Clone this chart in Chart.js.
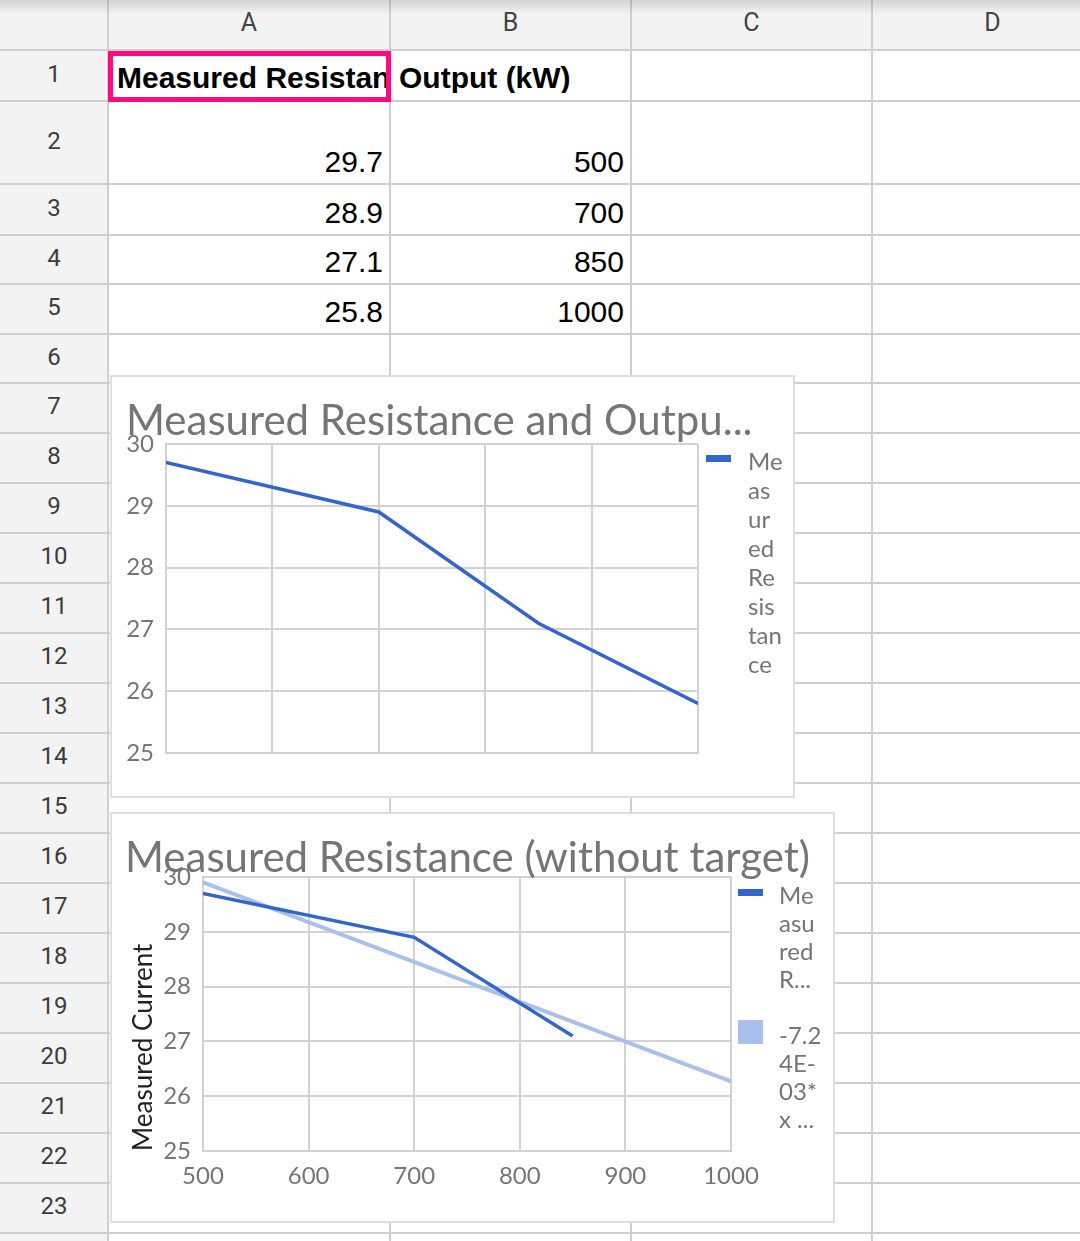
<!DOCTYPE html>
<html>
<head>
<meta charset="utf-8">
<title>Measured Resistance</title>
<script src="https://cdn.jsdelivr.net/npm/chart.js@4.4.1/dist/chart.umd.min.js"></script>
<style>
  html, body { margin: 0; padding: 0; background: #fff; }
  body { width: 1080px; height: 1241px; overflow: hidden; position: relative; }
  .band { position: absolute; background: #f3f3f3; }
  .hline { position: absolute; left: 0; width: 1080px; height: 2px; background: #cfcfcf; }
  .vline { position: absolute; top: 0; width: 2px; height: 1241px; background: #cfcfcf; }
  .head { position: absolute; display: flex; align-items: center; justify-content: center;
          font-family: Roboto, sans-serif; font-size: 24px; color: #3c3c3c; }
  .cell { position: absolute; height: 30px; line-height: 30px; font-family: 'Liberation Sans', Arial, sans-serif;
          font-size: 30px; color: #000; white-space: nowrap; overflow: hidden; box-sizing: border-box; }
  .num { text-align: right; padding-right: 7px; }
  .bold { font-weight: bold; padding-left: 9px; }
  #shadow { position: absolute; left: 0; top: 0; width: 1080px; height: 14px;
            background: linear-gradient(rgba(0,0,0,0.13), rgba(0,0,0,0)); }
  #selected { position: absolute; left: 108px; top: 51px; width: 283px; height: 51px;
              border: 5px solid #ff0a80; box-sizing: border-box; }
  .chartBox { position: absolute; background: #fff; border: 2px solid #dedede; box-sizing: border-box; }
  .chartBox canvas { position: absolute; left: -2px; top: -2px; }
</style>
</head>
<body>
<div id="sheet"></div>
<div class="chartBox" style="left:110px; top:375px; width:685px; height:423px;">
  <canvas id="chartTop" width="685" height="423"></canvas>
</div>
<div class="chartBox" style="left:110px; top:812px; width:725px; height:411px;">
  <canvas id="chartBottom" width="725" height="411"></canvas>
</div>
<script>
// sheet data
const outputKW = [500, 700, 850, 1000];
const resistance = [29.7, 28.9, 27.1, 25.8];
const headers = ['Measured Resistance', 'Output (kW)'];
const columnLetters = ['A', 'B', 'C', 'D'];

// second chart leaves out the last (target) row
const withoutTargetCount = 3;

// trendline as drawn in the second chart (end points)
const trendOutput = [500, 1000];
const trendResistance = [29.9, 26.27];

const seriesName = 'Measured Resistance';
const trendName = '-7.24E-03*x + 33.5';
const titleTop = 'Measured Resistance and Outpu...';
const titleBottom = 'Measured Resistance (without target)';
const yAxisTitle = 'Measured Current';

// legend text as it wraps in the narrow legend column
const legendLinesTop = [['Me', 'as', 'ur', 'ed', 'Re', 'sis', 'tan', 'ce']];
const legendLinesBottom = [['Me', 'asu', 'red', 'R...'], ['-7.2', '4E-', '03*', 'x ...']];

// ---- spreadsheet grid ----
const colEdges = [108, 390, 631, 872, 1113];
const rowEdges = [50, 101, 184, 235, 284, 334, 383, 433, 483, 533, 583, 633, 683, 733,
                  783, 833, 883, 933, 983, 1033, 1083, 1133, 1183, 1233, 1283];

const sheet = document.getElementById('sheet');
function add(cls, style, text) {
  const d = document.createElement('div');
  d.className = cls;
  Object.assign(d.style, style);
  if (text !== undefined) d.textContent = text;
  sheet.appendChild(d);
  return d;
}

add('band', { left: '0px', top: '0px', width: '1080px', height: '50px' });
add('band', { left: '0px', top: '0px', width: '108px', height: '1241px' });
rowEdges.forEach(y => add('hline', { top: (y - 1) + 'px' }));
colEdges.forEach(x => add('vline', { left: (x - 1) + 'px' }));
add('', { position: 'absolute' }).id = 'shadow';

columnLetters.forEach((c, i) => {
  add('head', { left: colEdges[i] + 'px', width: (colEdges[i + 1] - colEdges[i]) + 'px',
                top: '0px', height: '44px', fontSize: '25px', color: '#444' }, c);
});
for (let r = 0; r < rowEdges.length - 2; r++) {
  add('head', { left: '0px', width: '108px', top: (rowEdges[r] - 2) + 'px',
                height: (rowEdges[r + 1] - rowEdges[r]) + 'px' }, String(r + 1));
}

function cellText(text, col, row, cls) {
  const baseline = rowEdges[row + 1] - (row === 0 ? 13 : 12);
  add('cell ' + cls, { left: colEdges[col] + 'px', width: (colEdges[col + 1] - colEdges[col]) + 'px',
                       top: (baseline - 25) + 'px' }, text);
}
headers.forEach((h, i) => cellText(h, i, 0, 'bold'));
resistance.forEach((v, i) => cellText(String(v), 0, i + 1, 'num'));
outputKW.forEach((v, i) => cellText(String(v), 1, i + 1, 'num'));
add('', {}).id = 'selected';

// ---- charts ----
Chart.defaults.font.family = 'Lato, sans-serif';
const blue = '#3366cc';
const trendBlue = '#a9bfec';
const gridColor = '#d2d2d2';
const labelGrey = '#757575';
const titleFont = { family: 'Lato, sans-serif', size: 42, weight: 'normal', lineHeight: 1 };

// legend in a narrow right-hand column: reserves its own layout box
// (so the title keeps the full width) and draws one wrapped line per row
function wrappedLegend(cfg) {
  return {
    id: 'wrappedLegend',
    beforeInit(chart) {
      const box = {
        position: 'right', weight: 1000, fullSize: false, options: {},
        left: 0, top: 0, right: 0, bottom: 0, width: 0, height: 0,
        isHorizontal() { return false; },
        update(maxWidth, maxHeight) { this.width = cfg.width; this.height = maxHeight; },
        draw() {}
      };
      Chart.layouts.addBox(chart, box);
    },
    afterDraw(chart) {
      const { ctx, chartArea } = chart;
      ctx.save();
      ctx.font = '24px Lato, sans-serif';
      ctx.textBaseline = 'alphabetic';
      let baseY = chartArea.top + cfg.firstBaseline;
      chart.data.datasets.forEach((ds, i) => {
        const lines = cfg.lines[i];
        ctx.fillStyle = ds.borderColor;
        if (ds.legendBox === 'square') {
          ctx.fillRect(chartArea.right + cfg.boxGap, baseY - 24, 25, 24);
        } else {
          ctx.fillRect(chartArea.right + cfg.boxGap, baseY - 15, 25, 7);
        }
        ctx.fillStyle = labelGrey;
        lines.forEach((t, j) => ctx.fillText(t, chartArea.right + cfg.textGap, baseY + j * cfg.lineHeight));
        baseY += (lines.length + 1) * cfg.lineHeight;
      });
      ctx.restore();
    }
  };
}

const gridOpts = { color: gridColor, lineWidth: 2, drawTicks: false };
const borderOpts = { color: gridColor, width: 2 };

new Chart(document.getElementById('chartTop'), {
  type: 'line',
  data: {
    datasets: [{
      label: seriesName,
      data: outputKW.map((x, i) => ({ x: x, y: resistance[i] })),
      borderColor: blue,
      borderWidth: 3.5,
      pointRadius: 0,
      tension: 0
    }]
  },
  options: {
    responsive: false,
    animation: false,
    devicePixelRatio: 1,
    layout: { padding: { left: 16, top: 0, right: 0, bottom: 45 } },
    plugins: {
      legend: { display: false },
      tooltip: { enabled: false },
      title: {
        display: true, text: titleTop, align: 'start', color: labelGrey,
        font: titleFont,
        padding: { top: 25, bottom: 2 }
      }
    },
    scales: {
      x: {
        type: 'linear', min: 500, max: 1000,
        ticks: { display: false, stepSize: 100 },
        grid: gridOpts, border: borderOpts,
        afterFit: s => { s.height = 0; }
      },
      y: {
        min: 25, max: 30,
        ticks: { stepSize: 1, padding: 12, color: labelGrey, font: { size: 24 } },
        grid: gridOpts, border: borderOpts,
        afterFit: s => { s.width = 40; }
      }
    }
  },
  plugins: [wrappedLegend({ lines: legendLinesTop, width: 97, boxGap: 8, textGap: 50, firstBaseline: 26, lineHeight: 29 })]
});

new Chart(document.getElementById('chartBottom'), {
  type: 'line',
  data: {
    datasets: [{
      label: seriesName,
      data: outputKW.slice(0, withoutTargetCount).map((x, i) => ({ x: x, y: resistance[i] })),
      borderColor: blue,
      borderWidth: 3.5,
      pointRadius: 0,
      tension: 0
    }, {
      label: trendName,
      data: trendOutput.map((x, i) => ({ x: x, y: trendResistance[i] })),
      borderColor: trendBlue,
      borderWidth: 4,
      pointRadius: 0,
      tension: 0,
      legendBox: 'square'
    }]
  },
  options: {
    responsive: false,
    animation: false,
    devicePixelRatio: 1,
    layout: { padding: { left: 15, top: 0, right: 0, bottom: 31 } },
    plugins: {
      legend: { display: false },
      tooltip: { enabled: false },
      title: {
        display: true, text: titleBottom, align: 'start', color: labelGrey,
        font: titleFont,
        padding: { top: 25, bottom: -2 }
      }
    },
    scales: {
      x: {
        type: 'linear', min: 500, max: 1000,
        ticks: { stepSize: 100, padding: 11, color: labelGrey, font: { size: 24 }, format: { useGrouping: false } },
        grid: gridOpts, border: borderOpts,
        afterFit: s => { s.height = 41; }
      },
      y: {
        min: 25, max: 30,
        ticks: { stepSize: 1, padding: 12, color: labelGrey, font: { size: 24 } },
        grid: gridOpts, border: borderOpts,
        title: { display: true, text: yAxisTitle, align: 'start', color: '#222',
                 font: { size: 26 }, padding: { top: 3, bottom: 0 } },
        afterFit: s => { s.width = 78; }
      }
    }
  },
  plugins: [wrappedLegend({ lines: legendLinesBottom, width: 104, boxGap: 7, textGap: 48, firstBaseline: 27, lineHeight: 28 })]
});
</script>
</body>
</html>
